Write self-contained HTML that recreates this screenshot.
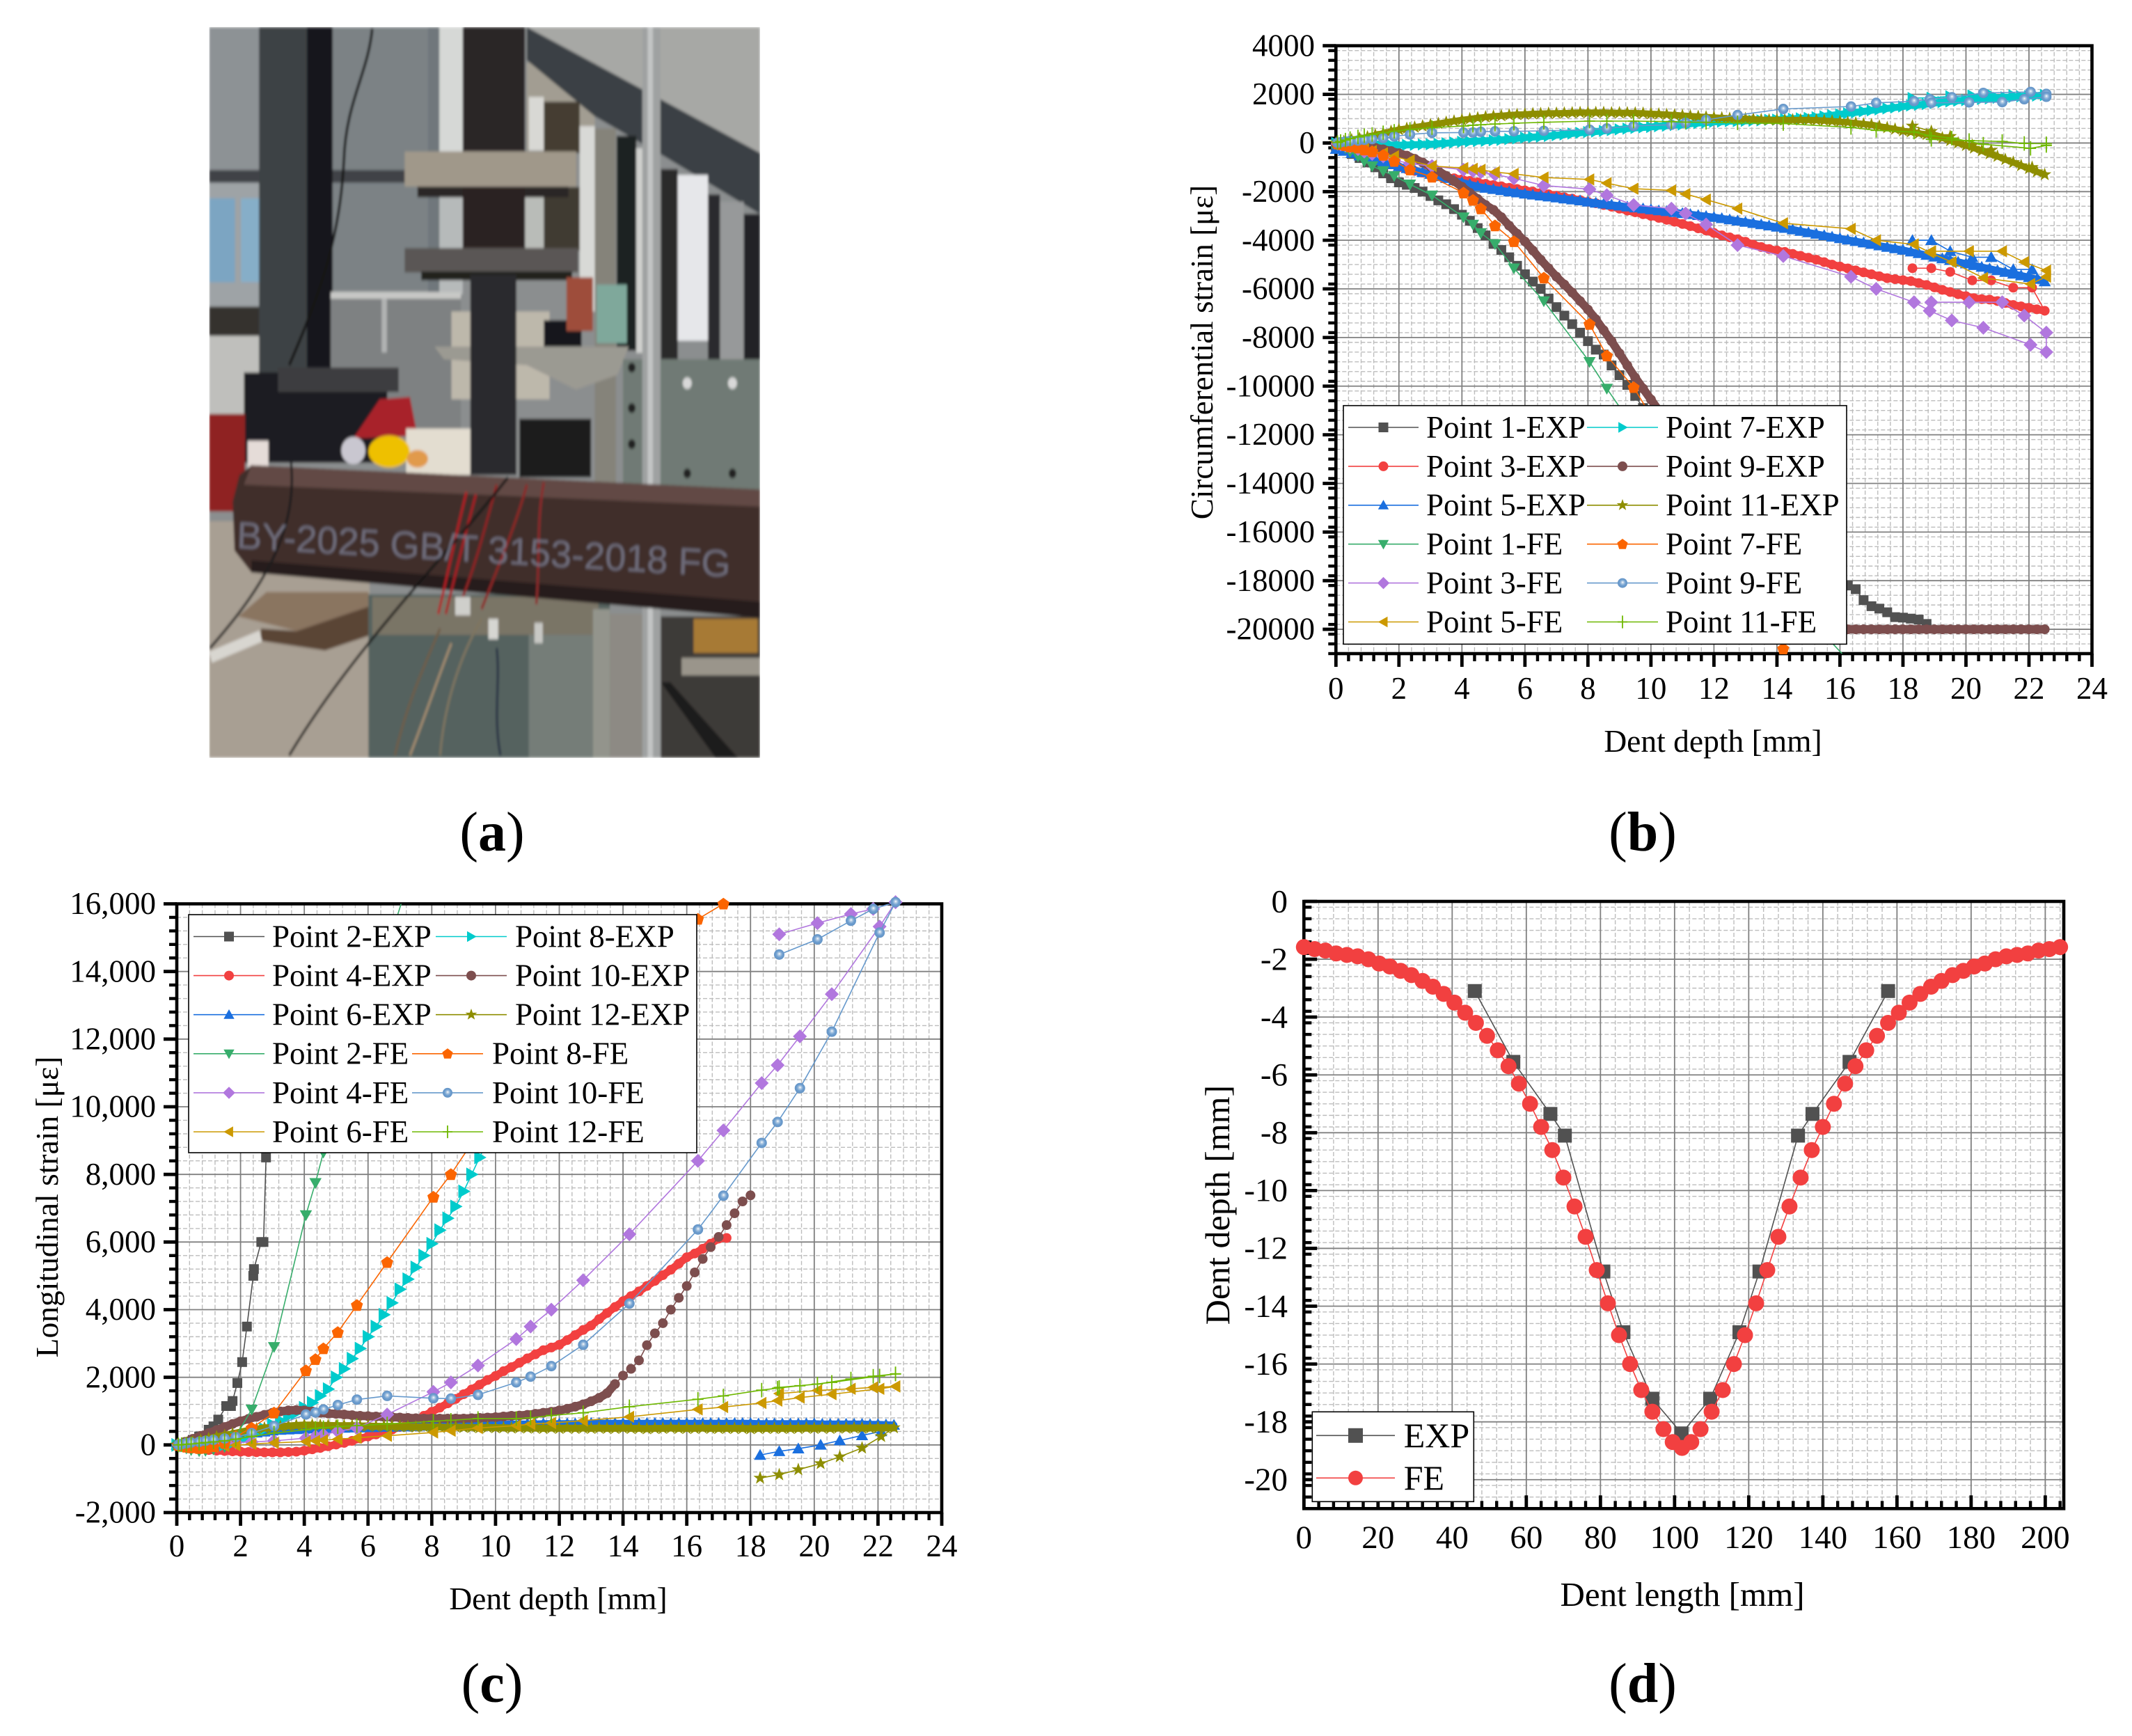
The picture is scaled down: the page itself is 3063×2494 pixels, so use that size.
<!DOCTYPE html>
<html lang="en">
<head>
<meta charset="utf-8">
<title>Dent test figure: photo and strain and depth charts</title>
<style>
html,body{margin:0;padding:0;background:#fff;}
svg{display:block;}
text{font-family:"Liberation Serif",serif;fill:#000;}
</style>
</head>
<body>
<svg id="fig" xmlns="http://www.w3.org/2000/svg" width="3063" height="2494" viewBox="0 0 3063 2494">
<defs>
<radialGradient id="sphere" cx="50%" cy="50%" r="55%" fx="52%" fy="42%">
<stop offset="0%" stop-color="#ffffff"/><stop offset="22%" stop-color="#b4cce4"/><stop offset="55%" stop-color="#6f9fd0"/><stop offset="100%" stop-color="#6090c2"/>
</radialGradient>
<filter id="soft" x="0" y="0" width="100%" height="100%"><feGaussianBlur stdDeviation="3"/></filter>
<clipPath id="photo-clip"><rect x="38" y="27" width="1460" height="1498"/></clipPath>
</defs>

<g transform="translate(280,20) scale(0.542,0.7008)" clip-path="url(#photo-clip)">
<g filter="url(#soft)">
<rect x="38" y="27" width="1460" height="1498" fill="#8b8e8f"/>
<rect x="38" y="27" width="135" height="295" fill="#8d9295"/>
<rect x="365" y="27" width="255" height="540" fill="#7b8285"/>
<rect x="38" y="320" width="520" height="26" fill="#3f4346"/>
<rect x="38" y="346" width="135" height="320" fill="#9ea3a6"/>
<rect x="38" y="378" width="68" height="172" fill="#7ba5c2"/>
<rect x="122" y="378" width="56" height="172" fill="#86aec8"/>
<rect x="38" y="600" width="142" height="60" fill="#35302e"/>
<rect x="38" y="660" width="142" height="190" fill="#bfbfbc"/>
<rect x="170" y="27" width="130" height="720" fill="#3e4245"/>
<rect x="297" y="27" width="68" height="720" fill="#18191b"/>
<rect x="620" y="27" width="90" height="255" fill="#d6d8d6"/>
<rect x="618" y="27" width="30" height="255" fill="#70777b"/>
<rect x="620" y="355" width="90" height="220" fill="#b6baba"/>
<rect x="618" y="355" width="30" height="220" fill="#70777b"/>
<rect x="360" y="578" width="345" height="280" fill="#7e8182"/>
<rect x="360" y="570" width="345" height="14" fill="#c8c8c6"/>
<rect x="495" y="584" width="14" height="110" fill="#b0b2b2"/>
<polygon points="880,27 1498,27 1498,290" fill="#a7a8a5"/>
<rect x="880" y="100" width="180" height="180" fill="#a29d92"/>
<polygon points="880,27 1498,285 1498,410 1240,290 1060,210 880,95" fill="#3b4045"/>
<rect x="710" y="27" width="165" height="255" fill="#2b2526"/>
<rect x="885" y="170" width="40" height="110" fill="#d8d8d4"/>
<rect x="925" y="180" width="95" height="105" fill="#453d33"/>
<rect x="875" y="355" width="50" height="125" fill="#b9bcb8"/>
<rect x="925" y="355" width="95" height="130" fill="#403a32"/>
<rect x="1020" y="230" width="40" height="380" fill="#d8d9d6"/>
<rect x="1060" y="235" width="56" height="730" fill="#85837a"/>
<rect x="1118" y="250" width="52" height="440" fill="#1f2022"/>
<rect x="1170" y="275" width="25" height="420" fill="#cfd0ce"/>
<rect x="1235" y="318" width="45" height="390" fill="#2c2b2c"/>
<rect x="1280" y="330" width="80" height="340" fill="#e6e7ea"/>
<rect x="1360" y="370" width="32" height="340" fill="#2a2b2d"/>
<rect x="1392" y="385" width="63" height="325" fill="#97999a"/>
<rect x="1455" y="410" width="43" height="300" fill="#222325"/>
<rect x="556" y="282" width="455" height="72" fill="#a0988a"/>
<rect x="590" y="354" width="400" height="22" fill="#2a2826"/>
<rect x="710" y="355" width="165" height="125" fill="#2a2323"/>
<rect x="556" y="480" width="460" height="50" fill="#5a5654"/>
<rect x="600" y="528" width="400" height="18" fill="#22211f"/>
<rect x="680" y="610" width="260" height="180" fill="#bdb8ab"/>
<rect x="925" y="628" width="100" height="55" fill="#17171a"/>
<rect x="985" y="540" width="70" height="110" fill="#9e4d3a"/>
<rect x="1065" y="555" width="80" height="120" fill="#7fa89b"/>
<polygon points="635,682 1150,682 1120,740 1010,770 880,720 660,708" fill="#9b9a92"/>
<rect x="860" y="830" width="190" height="120" fill="#1d1d1f"/>
<rect x="1135" y="708" width="363" height="275" fill="#6f7a74"/>
<g>
<circle cx="1158" cy="725" r="10" fill="#222"/>
<circle cx="1215" cy="725" r="10" fill="#222"/>
<circle cx="1158" cy="808" r="10" fill="#222"/>
<circle cx="1215" cy="808" r="10" fill="#222"/>
<circle cx="1158" cy="882" r="10" fill="#222"/>
<circle cx="1215" cy="882" r="10" fill="#222"/>
<circle cx="1305" cy="757" r="12" fill="#d8d8d8"/>
<circle cx="1425" cy="757" r="12" fill="#d8d8d8"/>
<circle cx="1305" cy="942" r="10" fill="#202020"/>
<circle cx="1425" cy="942" r="10" fill="#202020"/>
</g>
<rect x="730" y="535" width="122" height="410" fill="#2b2a2e"/>
<rect x="130" y="735" width="380" height="185" fill="#1c1c20"/>
<rect x="220" y="725" width="320" height="50" fill="#3c3c3f"/>
<rect x="38" y="820" width="95" height="200" fill="#8f2320"/>
<polygon points="490,790 570,785 590,865 420,870" fill="#a8202a"/>
<rect x="560" y="850" width="170" height="95" fill="#e3ddd0"/>
<rect x="140" y="875" width="55" height="60" fill="#e5dcd8"/>
<ellipse cx="515" cy="897" rx="55" ry="33" fill="#eec000"/>
<ellipse cx="590" cy="912" rx="28" ry="18" fill="#e19a4c"/>
<ellipse cx="420" cy="895" rx="32" ry="28" fill="#c9c7d0"/>
<rect x="38" y="1040" width="425" height="485" fill="#a89f93"/>
<rect x="1100" y="1230" width="90" height="295" fill="#8d8a84"/>
<polygon points="115,1235 190,1185 460,1185 460,1215 270,1265" fill="#8a7560"/>
<polygon points="175,1260 270,1265 460,1215 460,1275 345,1305 175,1285" fill="#5a4434"/>
<rect x="38" y="1285" width="140" height="24" fill="#d8d6d0" transform="rotate(-18 108 1297)"/>
<rect x="460" y="1190" width="640" height="335" fill="#55625e"/>
<rect x="885" y="1260" width="170" height="265" fill="#757d78"/>
<rect x="470" y="1195" width="600" height="78" fill="#7a7466"/>
<rect x="1055" y="1220" width="45" height="305" fill="#93948c"/>
<rect x="1235" y="1235" width="263" height="290" fill="#3d3a37"/>
<rect x="1322" y="1240" width="170" height="70" fill="#a77a34"/>
<rect x="1290" y="1320" width="208" height="36" fill="#9a958b"/>
<polygon points="1235,1370 1260,1370 1440,1525 1380,1525" fill="#1f1d1c"/>
<rect x="1186" y="27" width="48" height="1498" fill="#9fa1a1"/>
<rect x="1200" y="27" width="14" height="1498" fill="#c3c5c5"/>
<polygon points="150,925 1498,975 1498,1238 150,1145 105,1100 100,1000 118,945" fill="#3f2d2a"/>
<polygon points="150,925 1498,975 1498,1010 130,965" fill="#624a44"/>
<polygon points="150,1120 1498,1205 1498,1238 150,1145" fill="#281d1b"/>
<g fill="none" stroke-width="6">
<path d="M720 980 C690 1070 670 1150 645 1230" stroke="#b01e22"/>
<path d="M745 985 C715 1070 690 1150 665 1230" stroke="#a61e22"/>
<path d="M800 965 C770 1050 745 1130 700 1215" stroke="#8e2224"/>
<path d="M880 965 C850 1050 800 1140 760 1220" stroke="#8b2525"/>
<path d="M925 960 C905 1040 915 1120 905 1210" stroke="#8b2a2a"/>
<path d="M650 1260 C600 1350 560 1420 530 1520" stroke="#6e5d4a"/>
<path d="M760 1240 C700 1320 660 1420 650 1520" stroke="#7e7560"/>
<path d="M800 1300 C810 1370 790 1440 810 1520" stroke="#273244"/>
<path d="M680 1290 C640 1370 610 1440 570 1520" stroke="#a08a70"/>
</g>
<path d="M470 30 C460 120 400 180 395 300 C385 450 340 560 250 720" fill="none" stroke="#181818" stroke-width="7"/>
<path d="M255 920 C270 1050 200 1160 40 1300" fill="none" stroke="#1a1a1a" stroke-width="6"/>
<path d="M830 950 C680 1100 420 1300 250 1520" fill="none" stroke="#181818" stroke-width="6"/>
<rect x="690" y="1195" width="40" height="38" fill="#cfcfcb"/>
<rect x="778" y="1240" width="26" height="42" fill="#d6d6d2"/>
<rect x="900" y="1248" width="22" height="42" fill="#c8c8c4"/>
<text x="110" y="1095" font-size="78" style="fill:#7d7f92;opacity:.75;font-family:'Liberation Sans',sans-serif" textLength="1310" lengthAdjust="spacingAndGlyphs" transform="rotate(2.6 110 1095)">BY-2025 GB/T 3153-2018 FG</text>
</g>
</g>

<text x="707" y="1222" font-size="80" text-anchor="middle">(<tspan font-weight="bold">a</tspan>)</text>
<text x="2360" y="1222" font-size="80" text-anchor="middle">(<tspan font-weight="bold">b</tspan>)</text>
<text x="707" y="2445" font-size="80" text-anchor="middle">(<tspan font-weight="bold">c</tspan>)</text>
<text x="2360" y="2445" font-size="80" text-anchor="middle">(<tspan font-weight="bold">d</tspan>)</text>
</svg>

<script>
/* ---------- shared sample depths ---------- */
const expDepth = [0,0.25,0.5,0.75,1,1.25,1.5,1.75,2,2.25,2.5,2.75,3,3.25,3.5,3.75,4,4.25,4.5,4.75,5,5.25,5.5,5.75,6,6.25,6.5,6.75,7,7.25,7.5,7.75,8,8.25,8.5,8.75,9,9.25,9.5,9.75,10,10.25,10.5,10.75,11,11.25,11.5,11.75,12,12.25,12.5,12.75,13,13.25,13.5,13.75,14,14.25,14.5,14.75,15,15.25,15.5,15.75,16,16.25,16.5,16.75,17,17.25,17.5,17.75,18,18.25,18.5,18.75,19,19.25,19.5,19.75,20,20.25,20.5,20.75,21,21.25,21.5,21.75,22,22.25,22.5];
const expReturnDepth = [22.1,21.5,20.8,20.2,19.5,18.9,18.3];
const feDepth = [0.05,0.15,0.3,0.45,0.7,0.9,1.15,1.5,1.85,2.35,3.05,4.05,4.35,4.6,5.05,5.65,6.6,8.05,8.6,9.45,10.65,11.1,11.75,12.75,14.2,16.35,17.15,18.35,18.85,19.55,20.55,22.05,22.55,22.55,21.85,21.15,20.1,18.9];

/* ---------- chart b: circumferential strain ---------- */
const bXTicks = [0,2,4,6,8,10,12,14,16,18,20,22,24];
const bYTicks = [4000,2000,0,-2000,-4000,-6000,-8000,-10000,-12000,-14000,-16000,-18000,-20000];
const bPoint1Exp = [-150,-300,-450,-620,-800,-1000,-1250,-1450,-1620,-1720,-1850,-2000,-2180,-2360,-2520,-2720,-2950,-3200,-3500,-3800,-4150,-4400,-4700,-5050,-5400,-5700,-6000,-6400,-6750,-7100,-7450,-7800,-8150,-8500,-8700,-9150,-9550,-9950,-10400,-10900,-11300,-11600,-11900,-12200,-12500,-12800,-13100,-13400,-13700,-14000,-14300,-14550,-14800,-15050,-15300,-15550,-15800,-16050,-16300,-16550,-16800,-17100,-17400,-17700,-17950,-18200,-18350,-18800,-19050,-19150,-19300,-19500,-19520,-19560,-19600,-19780];
const bPoint3Exp = [-100,-180,-280,-400,-520,-640,-760,-880,-1000,-1080,-1150,-1220,-1290,-1350,-1400,-1450,-1500,-1560,-1620,-1680,-1730,-1780,-1840,-1890,-1950,-2000,-2060,-2110,-2170,-2230,-2290,-2350,-2420,-2480,-2550,-2620,-2700,-2780,-2850,-2930,-3000,-3080,-3160,-3240,-3330,-3420,-3510,-3600,-3700,-3800,-3880,-3960,-4060,-4180,-4280,-4360,-4420,-4480,-4560,-4640,-4720,-4800,-4900,-5000,-5080,-5160,-5240,-5320,-5400,-5480,-5560,-5600,-5640,-5680,-5760,-5840,-5940,-6040,-6130,-6220,-6300,-6380,-6420,-6440,-6500,-6580,-6660,-6720,-6780,-6840,-6900,-5950,-5950,-5650,-5650,-5300,-5150,-5150];
const bPoint5Exp = [-250,-330,-420,-520,-620,-720,-800,-880,-960,-1040,-1120,-1200,-1280,-1370,-1450,-1540,-1620,-1700,-1780,-1850,-1900,-1950,-2000,-2040,-2090,-2130,-2170,-2210,-2250,-2290,-2330,-2370,-2420,-2460,-2500,-2540,-2580,-2620,-2660,-2700,-2740,-2780,-2810,-2850,-2890,-2930,-2970,-3010,-3050,-3100,-3150,-3200,-3250,-3300,-3350,-3400,-3450,-3500,-3560,-3620,-3680,-3740,-3800,-3860,-3920,-3980,-4040,-4100,-4160,-4220,-4280,-4340,-4400,-4470,-4540,-4610,-4680,-4750,-4820,-4890,-4960,-5030,-5100,-5170,-5240,-5310,-5380,-5450,-5520,-5600,-5700,-5200,-5200,-4700,-4700,-4450,-4000,-4000];
const bPoint7Exp = [0,-20,-40,-60,-50,-40,-60,-80,-90,-80,-70,-60,-50,-30,-10,20,50,60,80,90,110,130,160,190,220,240,260,290,320,350,390,420,450,470,500,530,560,590,620,640,660,690,710,740,760,790,820,840,870,880,900,900,910,920,930,950,960,980,1000,1010,1030,1060,1100,1140,1180,1220,1260,1300,1340,1380,1420,1460,1500,1540,1570,1600,1640,1680,1710,1740,1760,1790,1810,1830,1860,1880,1900,1920,1930,1950,1970,2000,1960,1980,1950,1920,1860,1850];
const bPoint9Exp = [-50,-60,-80,-110,-150,-200,-260,-330,-420,-520,-650,-800,-970,-1150,-1350,-1570,-1800,-2050,-2300,-2550,-2750,-3050,-3400,-3730,-4050,-4420,-4800,-5150,-5500,-5820,-6150,-6500,-6850,-7250,-7700,-8150,-8650,-9150,-9650,-10100,-10550,-11000,-11600,-12200,-12800,-13400,-14000,-14600,-15200,-15800,-16400,-17000,-17600,-18200,-18800,-19400,-19800,-20000,-20000,-20000,-20000,-20000,-20000,-20000,-20000,-20000,-20000,-20000,-20000,-20000,-20000,-20000,-20000,-20000,-20000,-20000,-20000,-20000,-20000,-20000,-20000,-20000,-20000,-20000,-20000,-20000,-20000,-20000,-20000,-20000,-20000];
const bPoint11Exp = [0,60,130,190,250,330,400,480,550,600,650,700,750,800,850,900,950,990,1030,1070,1100,1120,1150,1170,1180,1200,1210,1220,1220,1230,1240,1250,1250,1250,1250,1240,1240,1240,1230,1220,1200,1190,1170,1150,1130,1110,1090,1070,1050,1030,1010,1000,1000,980,960,950,950,950,950,950,950,940,920,900,880,850,820,780,750,690,630,570,500,460,400,350,300,210,100,0,-100,-210,-320,-440,-550,-680,-800,-930,-1050,-1180,-1300,-1000,-800,-300,-100,270,480,700];
const bPoint1Fe = [-50,-100,-200,-350,-550,-750,-950,-1150,-1350,-1700,-2150,-3050,-3350,-3700,-4150,-5150,-6500,-9000,-10100,-11700,-13500,-14200,-15100,-16400,-18400,-21400,-22500];
const bPoint3Fe = [-30,-60,-100,-150,-250,-350,-450,-550,-700,-850,-950,-1100,-1150,-1200,-1300,-1450,-1750,-1900,-2150,-2550,-2700,-2900,-3350,-4200,-4650,-5500,-6000,-6550,-6900,-7300,-7600,-8300,-8600,-7800,-7100,-6550,-6550,-6550];
const bPoint5Fe = [-20,-40,-80,-120,-180,-250,-330,-420,-550,-720,-950,-1030,-1060,-1100,-1200,-1270,-1420,-1500,-1650,-1880,-1950,-2100,-2330,-2700,-3300,-3530,-4000,-4170,-4500,-4900,-5550,-5800,-5500,-5250,-4900,-4450,-4450,-4450];
const bPoint7Fe = [-30,-60,-100,-150,-200,-280,-350,-500,-750,-1100,-1400,-2050,-2350,-2700,-3400,-4050,-5550,-7450,-8750,-10050,-12600,-13600,-15100,-17500,-20800,-26000];
const bPoint9Fe = [10,30,60,80,100,130,160,200,270,350,420,430,430,460,480,480,500,550,600,700,750,830,950,1150,1400,1500,1650,1720,1800,1880,2060,2100,2020,1900,1800,1680,1670,1650];
const bPoint11Fe = [20,60,120,180,250,300,350,420,480,560,630,700,730,750,780,810,850,900,900,900,880,860,850,830,800,640,520,450,300,200,-50,-220,-100,-30,-20,60,100,150];

/* ---------- chart c: longitudinal strain ---------- */
const cXTicks = [0,2,4,6,8,10,12,14,16,18,20,22,24];
const cYTicks = [16000,14000,12000,10000,8000,6000,4000,2000,0,-2000];
const cYTickLabels = ["16,000","14,000","12,000","10,000","8,000","6,000","4,000","2,000","0","-2,000"];
const cPoint2ExpDepth = [0,0.3,0.5,0.7,1,1.15,1.3,1.55,1.7,1.75,1.9,2.05,2.2,2.4,2.42,2.65,2.72,2.8,3.05];
const cPoint2Exp = [0,60,150,250,450,550,750,1150,1150,1300,1830,2450,3500,5000,5200,6000,6000,8500,12000];
const cPoint4Exp = [0,-30,-80,-120,-150,-170,-180,-190,-200,-210,-215,-220,-220,-220,-210,-200,-170,-130,-90,-40,10,60,120,190,250,310,380,450,530,620,740,860,980,1100,1230,1360,1500,1640,1780,1920,2040,2180,2300,2430,2560,2680,2800,2880,2960,3100,3250,3400,3530,3720,3900,4080,4250,4400,4540,4700,4850,5020,5180,5360,5550,5660,5800,5950,6100,6120];
const cPoint6Exp = [0,30,60,100,140,180,220,260,300,330,360,390,420,440,450,460,470,480,490,490,500,500,510,510,520,520,530,530,540,540,550,560,560,570,570,580,590,590,600,600,610,610,620,620,620,620,630,630,630,630,630,630,640,640,640,640,640,640,640,640,640,640,640,640,640,640,640,640,640,640,640,640,640,630,630,630,630,630,630,630,630,620,620,620,620,620,620,610,610,600,590,400,280,130,0,-110,-190,-300];
const cPoint8Exp = [0,-20,-40,-50,-40,-20,10,60,150,250,350,470,600,720,850,950,1100,1250,1450,1650,2000,2250,2550,2850,3200,3500,3850,4200,4600,4900,5250,5600,5950,6350,6700,7050,7500,8000,8500,9000,9500,10000,10500,11000,11500,12000];
const cPoint10Exp = [0,90,180,270,350,440,530,620,700,770,830,890,950,990,1020,1030,1020,990,950,930,920,900,880,860,850,840,830,820,810,800,790,780,780,780,780,780,780,790,800,810,820,840,860,870,890,920,950,980,1020,1070,1130,1200,1290,1390,1530,1800,2050,2250,2500,2950,3300,3600,4000,4350,4700,5100,5500,5850,6150,6500,6850,7200,7380];
const cPoint12Exp = [0,40,90,140,190,240,280,330,380,430,470,500,520,540,560,580,590,590,580,580,570,570,570,560,560,550,550,550,540,540,530,540,530,530,520,530,520,520,510,520,510,510,500,510,500,500,490,500,490,500,490,500,490,500,490,490,500,490,490,480,490,490,500,490,490,490,500,490,490,490,490,490,480,490,490,490,490,490,490,500,490,500,490,500,500,500,500,500,510,510,510,250,-90,-350,-550,-730,-880,-980];
const cPoint2Fe = [-10,-40,-100,-150,-180,-170,-130,-60,250,1050,2900,6800,7750,8650,10200,12000,14700,19000];
const cPoint4Fe = [0,0,10,20,30,40,50,60,70,90,120,200,250,300,400,500,900,1570,1850,2350,3130,3500,4000,4870,6230,8400,9300,10700,11230,12080,13330,15330,16050,16050,15850,15700,15430,15100];
const cPoint6Fe = [0,-10,-20,-30,-40,-50,-50,-30,-10,30,60,100,120,140,170,210,270,370,420,500,570,620,650,720,830,1050,1120,1240,1310,1400,1500,1660,1730,1730,1700,1660,1610,1520];
const cPoint8Fe = [-10,-30,-60,-80,-100,-90,-50,50,250,500,950,2200,2530,2850,3330,4130,5400,7330,8000,9200,10700,11200,12000,13100,14500,15550,16000];
const cPoint10Fe = [0,20,50,70,90,120,150,190,230,350,560,900,960,1050,1180,1340,1450,1380,1370,1480,1850,2020,2330,2960,4180,6370,7370,8930,9550,10550,12220,15150,16050,15850,15500,14950,14500];
const cPoint10FeDepth = [0.05,0.15,0.3,0.45,0.7,0.9,1.15,1.5,1.85,2.35,3.05,4.05,4.35,4.6,5.05,5.65,6.6,8.05,8.6,9.45,10.65,11.1,11.75,12.75,14.2,16.35,17.15,18.35,18.85,19.55,20.55,22.05,22.55,21.85,21.15,20.1,18.9];
const cPoint12Fe = [0,10,20,30,50,70,90,120,170,250,350,450,490,510,540,570,620,700,730,780,780,800,870,950,1130,1350,1450,1620,1680,1750,1850,2040,2100,2100,2030,1950,1800,1700];

/* ---------- chart d: dent profile ---------- */
const dXTicks = [0,20,40,60,80,100,120,140,160,180,200];
const dYTicks = [0,-2,-4,-6,-8,-10,-12,-14,-16,-18,-20];
const dExpLength = [46.1,56.5,66.5,70.4,80.8,86.2,94,101.9,109.6,117.5,122.9,133.3,137.2,147.2,157.6];
const dExpDepth = [-3.1,-5.55,-7.35,-8.1,-12.8,-14.9,-17.2,-18.4,-17.2,-14.9,-12.8,-8.1,-7.35,-5.55,-3.1];
const dFeLength = [0,2.9,5.8,8.7,11.6,14.5,17.4,20.3,23.2,26.1,29,32,34.8,37.7,40.6,43.5,46.4,49.4,52.3,55.2,58,61,64,67,70,73,76,79,82,85,88,91,94,97,99.5,102,104.5,107,110,113,116,119,122,125,128,131,134,137,140,143,146,148.8,151.7,154.6,157.6,160.5,163.4,166.3,169.2,172,175,177.9,180.8,183.7,186.6,189.5,192.4,195.3,198.2,201.1,204];
const dFeDepth = [-1.58,-1.65,-1.7,-1.8,-1.85,-1.9,-2,-2.15,-2.25,-2.4,-2.55,-2.75,-2.95,-3.2,-3.5,-3.85,-4.2,-4.65,-5.15,-5.7,-6.3,-7,-7.8,-8.6,-9.55,-10.55,-11.6,-12.75,-13.9,-15,-16,-16.9,-17.65,-18.25,-18.7,-18.9,-18.7,-18.25,-17.65,-16.9,-16,-15,-13.9,-12.75,-11.6,-10.55,-9.55,-8.6,-7.8,-7,-6.3,-5.7,-5.15,-4.65,-4.2,-3.85,-3.5,-3.2,-2.95,-2.75,-2.55,-2.4,-2.25,-2.15,-2,-1.9,-1.85,-1.8,-1.7,-1.65,-1.58];

/* ---------- colours & drawing ---------- */
const NS = 'http://www.w3.org/2000/svg';
const root = document.getElementById('fig');
const GREY='#515151',RED='#f24040',BLUE='#1a6fdf',GREEN='#37ad6b',PURPLE='#b177de',GOLD='#cc9900',CYAN='#00cbcc',BROWN='#7d4e4e',OLIVE='#8e8e00',ORANGE='#fb6501',STEEL='#6699cc',LIME='#6fb802';

function slug(s){return s.toLowerCase().replace(/[^a-z0-9]+/g,'-').replace(/^-|-$/g,'');}

function shape(tag,attrs,parent,name){
  const el=document.createElementNS(NS,tag);
  for(const k in attrs){el.setAttribute(k,attrs[k]);}
  
  
  parent.appendChild(el);
  return el;
}

function drawMarker(parent,kind,cx,cy,color,h,name){
  const p=(arr)=>arr.map(a=>(cx+a[0]*h).toFixed(1)+','+(cy+a[1]*h).toFixed(1)).join(' ');
  if(kind==='square'){return shape('rect',{x:cx-h,y:cy-h,width:2*h,height:2*h,fill:color},parent,name);}
  if(kind==='circle'){return shape('circle',{cx:cx,cy:cy,r:h,fill:color},parent,name);}
  if(kind==='sphere'){return shape('circle',{cx:cx,cy:cy,r:h,fill:'url(#sphere)'},parent,name);}
  if(kind==='plus'){return shape('path',{d:'M'+(cx-h)+' '+cy+'H'+(cx+h)+'M'+cx+' '+(cy-h*1.3)+'V'+(cy+h*1.3),stroke:color,'stroke-width':1.8,fill:'none'},parent,name);}
  let pts;
  if(kind==='up'){pts=[[-1.1,0.85],[1.1,0.85],[0,-1.1]];}
  if(kind==='down'){pts=[[-1.1,-0.85],[1.1,-0.85],[0,1.1]];}
  if(kind==='left'){pts=[[0.85,-1.1],[0.85,1.1],[-1.1,0]];}
  if(kind==='right'){pts=[[-0.85,-1.1],[-0.85,1.1],[1.1,0]];}
  if(kind==='diamond'){pts=[[0,-1.25],[1.25,0],[0,1.25],[-1.25,0]];}
  if(kind==='pentagon'){pts=[[0,-1.1],[1.08,-0.3],[0.68,1],[-0.68,1],[-1.08,-0.3]];}
  if(kind==='star'){pts=[[0,-1.25],[0.3,-0.4],[1.2,-0.4],[0.48,0.15],[0.74,1.02],[0,0.5],[-0.74,1.02],[-0.48,0.15],[-1.2,-0.4],[-0.3,-0.4]];}
  return shape('polygon',{points:p(pts),fill:color},parent,name);
}

function drawChart(cfg){
  const g=shape('g',{},root,cfg.id);
  const sx=v=>cfg.left+(v-cfg.xMin)*(cfg.right-cfg.left)/(cfg.xMax-cfg.xMin);
  const sy=v=>cfg.top+(cfg.yMax-v)*(cfg.bottom-cfg.top)/(cfg.yMax-cfg.yMin);
  const near=(v,arr,step)=>arr.some(t=>Math.abs(t-v)<step*0.01);

  const grid=shape('g',{},g,cfg.id+'-grid');
  const ticks=shape('g',{},g,cfg.id+'-ticks');
  for(let i=0;;i++){
    const v=cfg.xMin+i*cfg.xMinor; if(v>cfg.xMax+1e-6)break;
    if(near(v,cfg.xTicks,cfg.xMinor))continue;
    const x=sx(v);
    shape('line',{x1:x,x2:x,y1:cfg.top,y2:cfg.bottom,stroke:'#bdbdbd','stroke-width':1.4,'stroke-dasharray':'6 3'},grid,'x-minor-gridline');
    const dir=cfg.inward?-1:1;
    shape('line',{x1:x,x2:x,y1:cfg.bottom,y2:cfg.bottom+dir*11,stroke:'#000','stroke-width':4.4},ticks,'x-minor-tick');
  }
  for(let i=0;;i++){
    const v=cfg.yMin+i*cfg.yMinor; if(v>cfg.yMax+1e-6)break;
    if(near(v,cfg.yTicks,cfg.yMinor))continue;
    const y=sy(v);
    shape('line',{x1:cfg.left,x2:cfg.right,y1:y,y2:y,stroke:'#bdbdbd','stroke-width':1.4,'stroke-dasharray':'6 3'},grid,'y-minor-gridline');
    const dir=cfg.inward?1:-1;
    shape('line',{x1:cfg.left,x2:cfg.left+dir*11,y1:y,y2:y,stroke:'#000','stroke-width':4.4},ticks,'y-minor-tick');
  }
  cfg.xTicks.forEach(function(v){
    const x=sx(v);
    if(v!==cfg.xMin&&v!==cfg.xMax){shape('line',{x1:x,x2:x,y1:cfg.top,y2:cfg.bottom,stroke:'#808080','stroke-width':1.8},grid,'x-major-gridline');}
    const dir=cfg.inward?-1:1;
    shape('line',{x1:x,x2:x,y1:cfg.bottom,y2:cfg.bottom+dir*19,stroke:'#000','stroke-width':4.8},ticks,'x-major-tick');
    const t=shape('text',{x:x,y:cfg.xLabelY,'font-size':cfg.tickFont,'text-anchor':'middle'},g,'x-tick-label');
    t.textContent=String(v);
  });
  cfg.yTicks.forEach(function(v,i){
    const y=sy(v);
    if(v!==cfg.yMax&&v!==cfg.yMin){shape('line',{x1:cfg.left,x2:cfg.right,y1:y,y2:y,stroke:'#808080','stroke-width':1.8},grid,'y-major-gridline');}
    const dir=cfg.inward?1:-1;
    shape('line',{x1:cfg.left,x2:cfg.left+dir*19,y1:y,y2:y,stroke:'#000','stroke-width':4.8},ticks,'y-major-tick');
    const t=shape('text',{x:cfg.yLabelX,y:y+cfg.tickFont*0.325,'font-size':cfg.tickFont,'text-anchor':'end'},g,'y-tick-label');
    t.textContent=cfg.yLabels?cfg.yLabels[i]:String(v);
  });
  shape('rect',{x:cfg.left,y:cfg.top,width:cfg.right-cfg.left,height:cfg.bottom-cfg.top,fill:'none',stroke:'#000','stroke-width':4.6},g,cfg.id+'-plot-frame');

  const clipId=cfg.id+'-clip';
  const defs=shape('clipPath',{id:clipId},g,cfg.id+'-clip-path');
  shape('rect',{x:cfg.left,y:cfg.top,width:cfg.right-cfg.left,height:cfg.bottom-cfg.top},defs,cfg.id+'-clip-rect');

  cfg.series.forEach(function(s){
    const sName=slug(s.label);
    const sg=shape('g',{},g,'series-'+sName);
    const n=Math.min(s.x.length,s.y.length);
    let d='';
    for(let i=0;i<n;i++){d+=(i?'L':'M')+sx(s.x[i]).toFixed(1)+' '+sy(s.y[i]).toFixed(1);}
    shape('path',{d:d,fill:'none',stroke:s.color,'stroke-width':cfg.lineWidth,'clip-path':'url(#'+clipId+')'},sg,sName+'-line');
    /* closely spaced readings merge into a solid band in the source chart */
    if(s.band){
      let bd='';
      const m=Math.min(n,s.bandCount);
      for(let i=0;i<m;i++){bd+=(i?'L':'M')+sx(s.x[i]).toFixed(1)+' '+sy(s.y[i]).toFixed(1);}
      shape('path',{d:bd,fill:'none',stroke:s.color,'stroke-width':s.band,'stroke-linejoin':'round','stroke-linecap':'round'},sg,sName+'-band');
    }
    const tol=(cfg.yMax-cfg.yMin)*0.006;
    for(let i=0;i<n;i++){
      if(s.y[i]>cfg.yMax+tol||s.y[i]<cfg.yMin-tol||s.x[i]>cfg.xMax)continue;
      drawMarker(sg,s.marker,sx(s.x[i]),sy(s.y[i]),s.color,s.size||cfg.markerSize,sName+'-point');
    }
  });

  const lg=shape('g',{},g,cfg.id+'-legend');
  const L=cfg.legend;
  shape('rect',{x:L.x,y:L.y,width:L.w,height:L.h,fill:'#fff',stroke:'#000','stroke-width':1.6},lg,cfg.id+'-legend-box');
  L.rows.forEach(function(r){
    const s=cfg.series[r.index];
    const nm=slug(s.label);
    shape('line',{x1:r.x1,x2:r.x2,y1:r.y,y2:r.y,stroke:s.color,'stroke-width':cfg.lineWidth},lg,'legend-line-'+nm);
    drawMarker(lg,s.marker,(r.x1+r.x2)/2,r.y,s.color,L.marker,'legend-marker-'+nm);
    const t=shape('text',{x:r.tx,y:r.y+L.font*0.33,'font-size':L.font},lg,'legend-entry-'+nm);
    t.textContent=s.label;
  });

  const xt=shape('text',{x:cfg.xTitle.x,y:cfg.xTitle.y,'font-size':cfg.xTitle.font,'text-anchor':'middle'},g,'x-axis-title');
  xt.textContent=cfg.xTitle.text;
  const yt=shape('text',{x:cfg.yTitle.x,y:cfg.yTitle.y,'font-size':cfg.yTitle.font,'text-anchor':'middle',transform:'rotate(-90 '+cfg.yTitle.x+' '+cfg.yTitle.y+')'},g,'y-axis-title');
  yt.textContent=cfg.yTitle.text;
}

function legendRows12(leftX1,leftX2,leftT,rightSpec,y0,dy){
  const rows=[];
  for(let i=0;i<6;i++){rows.push({index:i<3?i:i+3,x1:leftX1,x2:leftX2,tx:leftT,y:y0+dy*i});}
  for(let i=0;i<6;i++){
    const sp=rightSpec[i];
    rows.push({index:i<3?i+3:i+6,x1:sp[0],x2:sp[1],tx:sp[2],y:y0+dy*i});
  }
  return rows;
}

const withReturn = expDepth.concat(expReturnDepth);

drawChart({
  id:'chart-b-circumferential',left:1919.3,right:3005.5,top:65.7,bottom:939,xMin:0,xMax:24,yMin:-21000,yMax:4000,
  xMinor:0.4,yMinor:400,xTicks:bXTicks,yTicks:bYTicks,tickFont:45,xLabelY:1004,yLabelX:1889,lineWidth:1.6,markerSize:8,
  series:[
    {label:'Point 1-EXP',x:expDepth,y:bPoint1Exp,color:GREY,marker:'square',size:7},
    {label:'Point 3-EXP',x:withReturn,y:bPoint3Exp,color:RED,marker:'circle',size:7,band:11,bandCount:91},
    {label:'Point 5-EXP',x:withReturn,y:bPoint5Exp,color:BLUE,marker:'up',band:10,bandCount:91},
    {label:'Point 7-EXP',x:withReturn,y:bPoint7Exp,color:CYAN,marker:'right',band:10,bandCount:91},
    {label:'Point 9-EXP',x:expDepth,y:bPoint9Exp,color:BROWN,marker:'circle',size:7,band:12,bandCount:91},
    {label:'Point 11-EXP',x:withReturn,y:bPoint11Exp,color:OLIVE,marker:'star',band:9,bandCount:91},
    {label:'Point 1-FE',x:feDepth,y:bPoint1Fe,color:GREEN,marker:'down'},
    {label:'Point 3-FE',x:feDepth,y:bPoint3Fe,color:PURPLE,marker:'diamond'},
    {label:'Point 5-FE',x:feDepth,y:bPoint5Fe,color:GOLD,marker:'left'},
    {label:'Point 7-FE',x:feDepth,y:bPoint7Fe,color:ORANGE,marker:'pentagon'},
    {label:'Point 9-FE',x:feDepth,y:bPoint9Fe,color:STEEL,marker:'sphere',size:7.5},
    {label:'Point 11-FE',x:feDepth,y:bPoint11Fe,color:LIME,marker:'plus'}
  ],
  legend:{x:1930,y:582.7,w:723,h:342.7,font:45,marker:7,
    rows:legendRows12(1937,2038,2049,[[2280,2382,2393],[2280,2382,2393],[2280,2382,2393],[2280,2382,2393],[2280,2382,2393],[2280,2382,2393]],614,55.9)},
  xTitle:{text:'Dent depth [mm]',x:2461,y:1080,font:45.5},
  yTitle:{text:'Circumferential strain [με]',x:1742,y:506,font:45}
});

drawChart({
  id:'chart-c-longitudinal',left:254,right:1353,top:1298.5,bottom:2173,xMin:0,xMax:24,yMin:-2000,yMax:16000,
  xMinor:0.4,yMinor:400,xTicks:cXTicks,yTicks:cYTicks,yLabels:cYTickLabels,tickFont:45,xLabelY:2236,yLabelX:224,lineWidth:1.6,markerSize:8,
  series:[
    {label:'Point 2-EXP',x:cPoint2ExpDepth,y:cPoint2Exp,color:GREY,marker:'square',size:7},
    {label:'Point 4-EXP',x:expDepth,y:cPoint4Exp,color:RED,marker:'circle',size:7,band:11,bandCount:70},
    {label:'Point 6-EXP',x:withReturn,y:cPoint6Exp,color:BLUE,marker:'up',band:10,bandCount:91},
    {label:'Point 8-EXP',x:expDepth,y:cPoint8Exp,color:CYAN,marker:'right',size:9},
    {label:'Point 10-EXP',x:expDepth,y:cPoint10Exp,color:BROWN,marker:'circle',size:7,band:12,bandCount:56},
    {label:'Point 12-EXP',x:withReturn,y:cPoint12Exp,color:OLIVE,marker:'star',band:10,bandCount:91},
    {label:'Point 2-FE',x:feDepth,y:cPoint2Fe,color:GREEN,marker:'down'},
    {label:'Point 4-FE',x:feDepth,y:cPoint4Fe,color:PURPLE,marker:'diamond'},
    {label:'Point 6-FE',x:feDepth,y:cPoint6Fe,color:GOLD,marker:'left'},
    {label:'Point 8-FE',x:feDepth,y:cPoint8Fe,color:ORANGE,marker:'pentagon'},
    {label:'Point 10-FE',x:cPoint10FeDepth,y:cPoint10Fe,color:STEEL,marker:'sphere',size:7.5},
    {label:'Point 12-FE',x:feDepth,y:cPoint12Fe,color:LIME,marker:'plus'}
  ],
  legend:{x:271,y:1314,w:730,h:342,font:45,marker:7,
    rows:legendRows12(278,380,391,[[626,728,740],[626,728,740],[626,728,740],[592,694,707],[592,694,707],[592,694,707]],1345.5,56.1)},
  xTitle:{text:'Dent depth [mm]',x:802,y:2312,font:45.5},
  yTitle:{text:'Longitudinal strain [με]',x:83,y:1734,font:45.5}
});

drawChart({
  id:'chart-d-dent-profile',left:1873.3,right:2965,top:1295,bottom:2167.3,xMin:0,xMax:205,yMin:-21,yMax:0,inward:true,
  xMinor:4,yMinor:0.4,xTicks:dXTicks,yTicks:dYTicks,tickFont:47,xLabelY:2224,yLabelX:1850,lineWidth:1.6,markerSize:10,
  series:[
    {label:'EXP',x:dExpLength,y:dExpDepth,color:GREY,marker:'square',size:10},
    {label:'FE',x:dFeLength,y:dFeDepth,color:RED,marker:'circle',size:11.5}
  ],
  legend:{x:1885.3,y:2028.3,w:232,h:129,font:50,marker:10.5,
    rows:[{index:0,x1:1891,x2:2004,tx:2016.7,y:2062.3},{index:1,x1:1891,x2:2004,tx:2016.7,y:2123.3}]},
  xTitle:{text:'Dent length [mm]',x:2417,y:2307,font:49},
  yTitle:{text:'Dent depth [mm]',x:1766,y:1731,font:50}
});
</script>
</body>
</html>
